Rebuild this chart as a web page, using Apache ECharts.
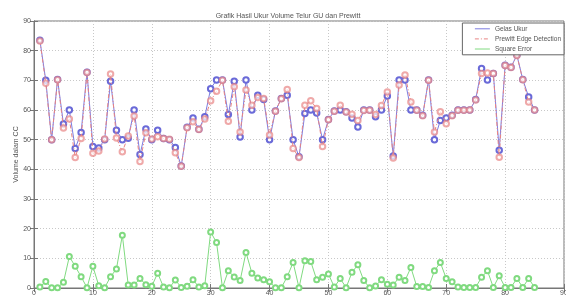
<!DOCTYPE html>
<html>
<head>
<meta charset="utf-8">
<script src="https://cdn.jsdelivr.net/npm/echarts@6/dist/echarts.min.js"></script>
<style>
	html, body { margin: 0; padding: 0; background: #fff; }
	#main { width: 566px; height: 300px; }
</style>
</head>
<body>
<div id="main"></div>
<script>
// data, x = 1..85
var gelasUkur = [83.5, 70, 50, 70.3, 55.3, 60, 47, 52.4, 72.7, 47.7,
	47.2, 50, 69.7, 53.2, 50, 50.5, 60, 45, 53.6, 50,
	53.2, 50.4, 50, 47.4, 41.1, 54.2, 57.3, 53.5, 57.7, 67.2,
	70.1, 70.1, 58.5, 69.7, 50.9, 70.1, 60, 65, 63.5, 50,
	59.7, 63.9, 65, 50, 44.2, 58.8, 60, 59, 50, 56.8,
	59.7, 60, 59.4, 57.3, 54.3, 60, 60, 57.7, 60, 64.7,
	44.5, 70.1, 70.1, 60, 60, 58.2, 70.1, 50, 56.5, 57.3,
	58.2, 60, 60, 60, 63.5, 74, 70.1, 72.3, 46.4, 75.1,
	74.4, 78.5, 70.3, 64.4, 60];
var prewitt = [83.3, 69, 50, 70.2, 53.9, 57, 44, 50.4, 72.6, 45.4,
	46.2, 50.2, 72.1, 50.6, 45.9, 51.2, 58, 42.6, 52.3, 50.2,
	51, 50.4, 50.1, 45.6, 41, 54, 56, 53.4, 57, 63.1,
	66.3, 70, 56.2, 67.8, 52.6, 66.7, 61.6, 64.2, 63.9, 51.6,
	59.6, 63.8, 66.9, 47, 44, 61.6, 63.1, 60.5, 47.7, 56.7,
	59.6, 61.6, 59.3, 58.6, 56.5, 59.8, 59.9, 58.5, 61.5, 66.1,
	43.8, 68.4, 71.8, 62.7, 59.9, 58.1, 70, 52.6, 59.4, 55.4,
	58.1, 59.9, 59.9, 60, 63.4, 72.3, 72.5, 72.3, 44.1, 75,
	74.3, 78.4, 70.2, 62.7, 60];
var squareError = [0.3, 2.2, 0.1, 0.1, 1.9, 10.6, 7.3, 3.8, 0.1, 7.3,
	0.8, 0.1, 3.8, 6.4, 17.8, 1, 1, 3.2, 1.1, 0.6,
	5, 0.3, 0.1, 2.7, 0.2, 0.6, 2.8, 0.3, 0.8, 18.9,
	15.3, 0.1, 5.8, 3.7, 2.5, 12, 5, 3.4, 2.8, 2.1,
	0.1, 0.1, 3.8, 8.6, 0.1, 9.2, 8.9, 2.8, 3.6, 4.7,
	0.3, 3.2, 0.1, 5.3, 7.8, 2.5, 0.1, 0.7, 2.8, 1.3,
	1, 3.6, 2.5, 6.9, 0.5, 0.5, 0.2, 5.8, 8.6, 3.2,
	2.1, 0.3, 0.2, 0.2, 0.2, 3.6, 5.8, 0.2, 4.1, 0.2,
	0.2, 3.2, 0.2, 3.2, 0.2];
var seriesNames = ['Gelas Ukur', 'Prewitt Edge Detection', 'Square Error'];
var titleText = 'Grafik Hasil Ukur Volume Telur GU dan Prewitt';
var yName = 'Volume dalam CC';

function pairs(arr) {
	var out = [];
	for (var i = 0; i < arr.length; i++) {
		out.push([i + 1, arr[i]]);
	}
	return out;
}

var myChart = echarts.init(document.getElementById('main'));

var axisText = { color: '#555', fontSize: 7, fontFamily: 'Liberation Sans' };
var dotted = { show: true, lineStyle: { color: '#c8c8c8', type: [1, 2], width: 1 } };

option = {
	backgroundColor: '#fff',
	animation: false,
	title: {
		text: titleText,
		left: 283,
		textAlign: 'center',
		top: 8,
		textStyle: { color: '#555', fontSize: 7, fontWeight: 'normal', fontFamily: 'Liberation Sans' }
	},
	legend: {
		orient: 'vertical',
		right: 2,
		top: 23,
		itemWidth: 15,
		itemHeight: 7,
		itemGap: 2.5,
		padding: [2, 3, 2, 12],
		backgroundColor: '#fff',
		borderColor: '#666',
		borderWidth: 1,
		borderRadius: 0,
		textStyle: { color: '#555', fontSize: 6.5, fontFamily: 'Liberation Sans' },
		itemStyle: { opacity: 0 },
		lineStyle: { width: 1, cap: 'butt', opacity: 1 },
		data: seriesNames
	},
	grid: {
		left: 34,
		right: 2,
		top: 21,
		bottom: 12,
		outerBoundsMode: 'none',
		show: true,
		borderColor: '#777',
		borderWidth: 1
	},
	xAxis: [{
		type: 'value',
		min: 0,
		max: 90,
		interval: 10,
		axisLine: { lineStyle: { color: '#777' } },
		axisTick: { inside: true, length: 4, lineStyle: { color: '#777' } },
		axisLabel: Object.assign({ margin: 2 }, axisText),
		splitLine: dotted
	}, {
		type: 'value',
		position: 'top',
		min: 0,
		max: 90,
		interval: 10,
		axisLine: { lineStyle: { color: '#777' } },
		axisTick: { inside: true, length: 4, lineStyle: { color: '#777' } },
		axisLabel: { show: false },
		splitLine: { show: false }
	}],
	yAxis: [{
		type: 'value',
		min: 0,
		max: 90,
		interval: 10,
		name: yName,
		nameLocation: 'middle',
		nameGap: 14,
		nameMoveOverlap: false,
		nameTextStyle: { color: '#555', fontSize: 7, fontFamily: 'Liberation Sans' },
		axisLine: { show: true, lineStyle: { color: '#777' } },
		axisTick: { inside: true, length: 4, lineStyle: { color: '#777' } },
		axisLabel: Object.assign({ margin: 3 }, axisText),
		splitLine: dotted
	}, {
		type: 'value',
		position: 'right',
		min: 0,
		max: 90,
		interval: 10,
		axisLine: { show: true, lineStyle: { color: '#777' } },
		axisTick: { show: true, inside: true, length: 4, lineStyle: { color: '#777' } },
		axisLabel: { show: false },
		splitLine: { show: false }
	}],
	series: [{
		name: seriesNames[0],
		type: 'line',
		data: pairs(gelasUkur),
		symbol: 'emptyCircle',
		symbolSize: 5.5,
		lineStyle: { color: '#7c7ce0', width: 1 },
		itemStyle: { color: '#6a6ad8', borderWidth: 0.9 },
		z: 2
	}, {
		name: seriesNames[1],
		type: 'line',
		data: pairs(prewitt),
		symbol: 'emptyCircle',
		symbolSize: 5.5,
		lineStyle: { color: '#e88484', width: 1, type: [4, 2, 1, 2] },
		itemStyle: { color: '#e88484', borderWidth: 0.9, opacity: 0.7 },
		z: 3
	}, {
		name: seriesNames[2],
		type: 'line',
		data: pairs(squareError),
		symbol: 'emptyCircle',
		symbolSize: 5,
		lineStyle: { color: '#80da80', width: 1 },
		itemStyle: { color: '#80da80', borderWidth: 0.9 },
		z: 2
	}]
};

myChart.setOption(option);
</script>
</body>
</html>
